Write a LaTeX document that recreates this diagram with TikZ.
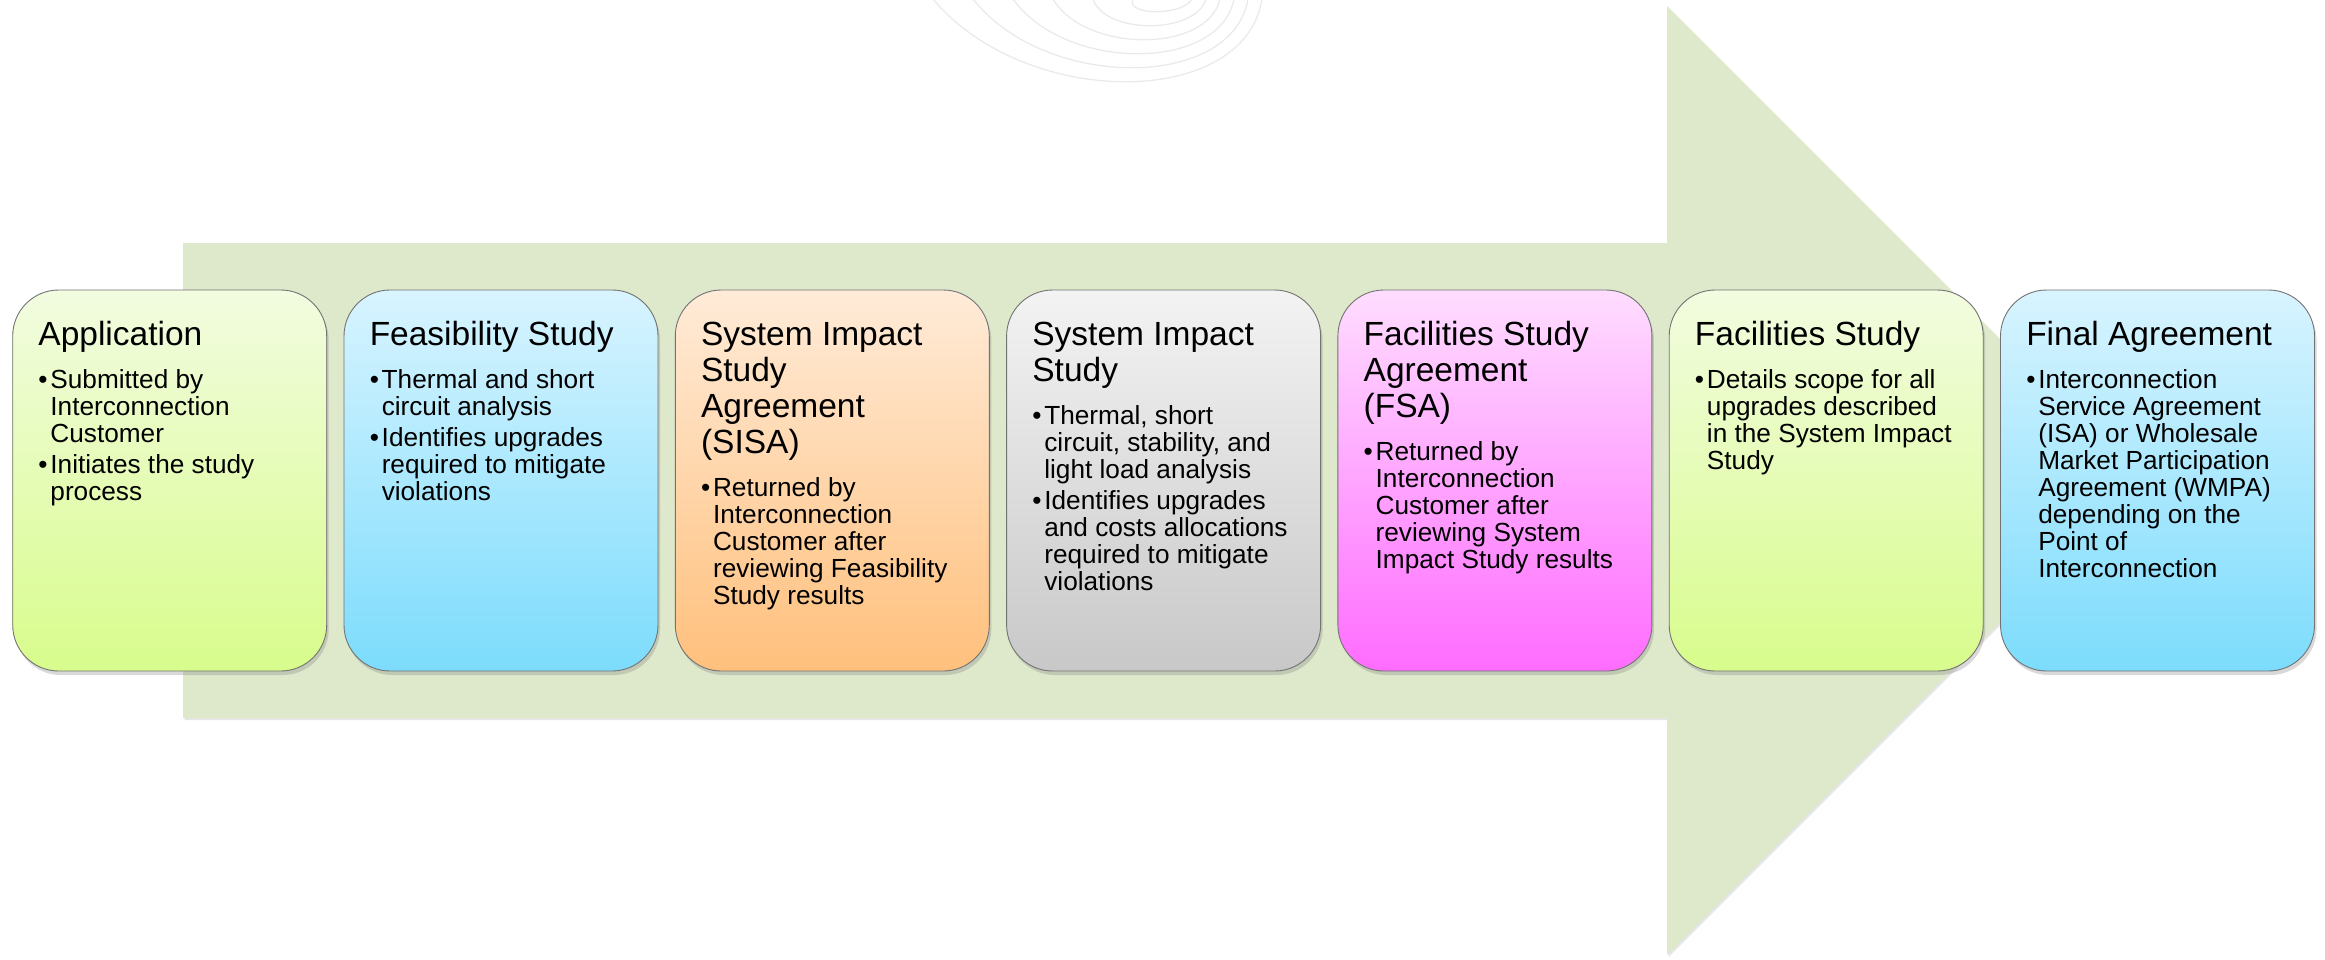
\documentclass[tikz,border=0pt]{standalone}
\usepackage{fontspec}
\setmainfont{Liberation Sans}
\usetikzlibrary{shadows,calc}
\definecolor{arrowgreen}{HTML}{DEE8CB}
\definecolor{gTop}{HTML}{F2FCE0}\definecolor{gBot}{HTML}{D8FC8C}
\definecolor{bTop}{HTML}{D8F4FF}\definecolor{bBot}{HTML}{7CDCFC}
\definecolor{oTop}{HTML}{FFEBD8}\definecolor{oBot}{HTML}{FFC07C}
\definecolor{sTop}{HTML}{F3F3F3}\definecolor{sBot}{HTML}{C8C8C8}
\definecolor{mTop}{HTML}{FFDDFF}\definecolor{mBot}{HTML}{FF6CFF}
\definecolor{arcgray}{HTML}{EAEAEA}
\newcommand\tfont{\fontsize{33.5}{36}\selectfont}
\newcommand\bfont{\fontsize{26.2}{27}\selectfont}
\newcommand\bitem[1]{\par\hangindent=12pt\hangafter=1\noindent\makebox[12pt][l]{•}#1\par}
\newcommand\stagebox[2]{\parbox[t]{300pt}{\raggedright\parskip=0pt {\tfont #1\par}\vspace{12pt}\bfont\parskip=4pt #2}}
\tikzset{
  stage/.style={rounded corners=46pt, draw=black!55, line width=0.9pt,
    minimum width=314pt, minimum height=381pt, inner sep=0pt,
    drop shadow={shadow xshift=2pt, shadow yshift=-4pt, opacity=0.3}},
  stagetext/.style={anchor=base west, inner sep=0pt, text=black},
  arc/.style={draw=arcgray, line width=1.3pt}
}
\begin{document}
\begin{tikzpicture}[x=1pt,y=-1pt]
\useasboundingbox (0,0) rectangle (2325,959);
% faint arcs at the top
\begin{scope}
\clip (0,0) rectangle (2325,959);
\foreach \i in {0,...,5}{
  \pgfmathsetmacro\xl{933+40*\i}
  \pgfmathsetmacro\xr{1262-14*\i}
  \pgfmathsetmacro\h{(82-14*\i)/0.75}
  \pgfmathsetmacro\ca{\xl+0.5*(1117-\xl)}
  \pgfmathsetmacro\cb{\xr-0.12*(\xr-1117)}
  \draw[arc] (\xl,-1) .. controls (\ca,\h) and (\cb,\h) .. (\xr,-1);
}
\end{scope}
% big arrow
\path[fill=arrowgreen, drop shadow={shadow xshift=1.5pt, shadow yshift=-2pt, opacity=0.2}]
  (183,243) -- (1667,243) -- (1667,6) -- (2141.5,480.5) -- (1667,955) -- (1667,718) -- (183,718) -- cycle;
% stage boxes
\node[stage, top color=gTop, bottom color=gBot] (b1) at (169.7,480.5) {};
\node[stage, top color=bTop, bottom color=bBot] (b2) at (501.0,480.5) {};
\node[stage, top color=oTop, bottom color=oBot] (b3) at (832.3,480.5) {};
\node[stage, top color=sTop, bottom color=sBot] (b4) at (1163.6,480.5) {};
\node[stage, top color=mTop, bottom color=mBot] (b5) at (1494.9,480.5) {};
\node[stage, top color=gTop, bottom color=gBot] (b6) at (1826.2,480.5) {};
\node[stage, top color=bTop, bottom color=bBot] (b7) at (2157.5,480.5) {};
% texts
\node[stagetext] (t1) at ($(b1.north west)+(26,56)$) {\stagebox{Application}{%
  \bitem{Submitted by\newline Interconnection\newline Customer}%
  \bitem{Initiates the study\newline process}}};
\node[stagetext] (t2) at ($(b2.north west)+(26,56)$) {\stagebox{Feasibility Study}{%
  \bitem{Thermal and short\newline circuit analysis}%
  \bitem{Identifies upgrades\newline required to mitigate\newline violations}}};
\node[stagetext] (t3) at ($(b3.north west)+(26,56)$) {\stagebox{System Impact\newline Study\newline Agreement\newline (SISA)}{%
  \bitem{Returned by\newline Interconnection\newline Customer after\newline reviewing Feasibility\newline Study results}}};
\node[stagetext] (t4) at ($(b4.north west)+(26,56)$) {\stagebox{System Impact\newline Study}{%
  \bitem{Thermal, short\newline circuit, stability, and\newline light load analysis}%
  \bitem{Identifies upgrades\newline and costs allocations\newline required to mitigate\newline violations}}};
\node[stagetext] (t5) at ($(b5.north west)+(26,56)$) {\stagebox{Facilities Study\newline Agreement\newline (FSA)}{%
  \bitem{Returned by\newline Interconnection\newline Customer after\newline reviewing System\newline Impact Study results}}};
\node[stagetext] (t6) at ($(b6.north west)+(26,56)$) {\stagebox{Facilities Study}{%
  \bitem{Details scope for all\newline upgrades described\newline in the System Impact\newline Study}}};
\node[stagetext] (t7) at ($(b7.north west)+(26,56)$) {\stagebox{Final Agreement}{%
  \bitem{Interconnection\newline Service Agreement\newline (ISA) or Wholesale\newline Market Participation\newline Agreement (WMPA)\newline depending on the\newline Point of\newline Interconnection}}};
\end{tikzpicture}
\end{document}
